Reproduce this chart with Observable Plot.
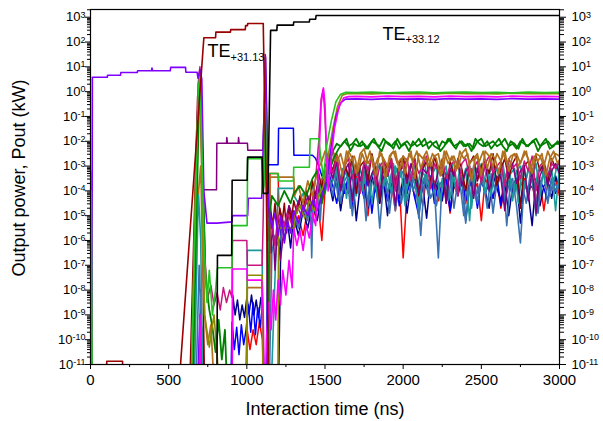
<!DOCTYPE html>
<html><head><meta charset="utf-8">
<script src="https://cdn.jsdelivr.net/npm/d3@7"></script>
<script src="https://cdn.jsdelivr.net/npm/@observablehq/plot@0.6"></script>
<style>
html,body{margin:0;padding:0;background:#fff;}
#chart svg{display:block;}
</style></head><body><div id="chart"></div>
<script>
// ---- axis ticks ----
const xMajor = [0, 500, 1000, 1500, 2000, 2500, 3000];
const xMinor = [250, 750, 1250, 1750, 2250, 2750];
const yExps = [-11, -10, -9, -8, -7, -6, -5, -4, -3, -2, -1, 0, 1, 2, 3];

// ---- series: [time ns, log10(P kW)] ----
const darkRedTE = [[0,-13],[100,-13],[104,-10.87],[205,-10.87],[209,-13],[576,-11],[725,2.17],[800,2.17],[802,2.4],[895,2.4],[897,2.5],[990,2.5],[992,2.66],[1004,2.66],[1006,2.75],[1105,2.75],[1115,-1],[1125,-4],[1140,-13]];
const blackTE = [[0,-13],[808,-13],[812,-6.6],[903,-6.6],[906,-3.57],[1002,-3.57],[1005,-2.64],[1098,-2.64],[1104,-4.1],[1135,-4.1],[1152,2.47],[1192,2.47],[1194,2.68],[1298,2.68],[1300,2.81],[1400,2.81],[1402,2.92],[1440,2.92],[1443,3.07],[3000,3.07]];
const violet = [[0,-13],[8,-13],[12,0.58],[107,0.58],[109,0.66],[192,0.66],[194,0.77],[299,0.77],[301,0.84],[390,0.84],[393,0.95],[398,0.84],[510,0.84],[513,0.98],[608,0.98],[610,0.78],[682,0.78],[688,0.54],[700,0.9],[712,0.5],[725,-4],[745,-5.3],[810,-5.3],[905,-5.25],[908,-5.0],[1005,-5.0],[1010,-4.3],[1095,-4.3],[1110,-1],[1118,1.5],[1126,-1],[1140,-4.6],[1160,-5.5],[1180,-4.9],[1200,-5.8],[1220,-5.0],[1240,-6.1],[1260,-5.2],[1280,-5.7],[1300,-4.8],[1330,-5.3],[1360,-4.6],[1390,-5.0],[1420,-4.4],[1450,-4.8],[1480,-4.2],[1510,-3.6],[1540,-2.2],[1570,-1.0],[1600,-0.45],[1630,-0.3],[1700,-0.29],[1800,-0.31],[1900,-0.28],[2000,-0.3],[2100,-0.29],[2200,-0.31],[2300,-0.28],[2400,-0.3],[2500,-0.29],[2600,-0.31],[2700,-0.28],[2800,-0.3],[2900,-0.29],[3000,-0.3]];
const purple = [[0,-13],[640,-13],[690,0.3],[700,0.7],[708,-1],[715,-3.96],[806,-3.96],[808,-2.08],[870,-2.08],[872,-1.85],[876,-2.08],[945,-2.08],[947,-1.85],[951,-2.08],[1004,-2.08],[1006,-2.36],[1102,-2.36],[1112,-0.5],[1120,1.4],[1128,-1],[1140,-5],[1155,-6.5],[1165,-5.2],[1180,-7.2],[1195,-5.5],[1215,-6.8],[1240,-5.4],[1270,-4.6],[1300,-5.1],[1330,-4.4],[1360,-4.9],[1390,-4.2],[1420,-4.7],[1450,-3.8],[1480,-4.4],[1500,-3.5]];
const blue = [[0,-13],[680,-13],[700,-9],[720,-10.5],[740,-13],[895,-13],[905,-9.3],[920,-10.4],[935,-9.5],[950,-10.6],[965,-9.4],[980,-10.2],[995,-9.6],[1010,-8.6],[1025,-9.7],[1040,-8.5],[1055,-9.8],[1070,-8.7],[1085,-9.5],[1100,-8.6],[1110,-12],[1125,-13],[1135,-3],[1140,-2.95],[1200,-2.95],[1203,-1.48],[1298,-1.48],[1301,-2.56],[1420,-2.56],[1440,-2.7],[1460,-3.0],[1480,-3.4],[1500,-3.2]];
const navy = [[0,-13],[690,-13],[705,-8],[720,-13],[905,-13],[910,-8.2],[925,-9.0],[940,-8.4],[955,-9.2],[970,-8.6],[985,-9.1],[1000,-8.3],[1015,-8.9],[1030,-8.2],[1045,-9.0],[1060,-8.4],[1075,-9.1],[1090,-8.3],[1100,-8.8],[1110,-13],[1200,-13],[1220,-5],[1240,-6],[1260,-5.2],[1280,-6.3],[1300,-5.0],[1330,-5.8],[1360,-4.8],[1390,-5.5],[1420,-4.5],[1450,-5.2],[1480,-4.0],[1500,-3.8]];
const green = [[0,-13],[5,-4],[12,-13],[640,-13],[690,0.2],[700,0.6],[712,-2],[725,-6],[745,-8.5],[760,-7.2],[780,-9.0],[800,-8.0],[812,-7.1],[905,-7.1],[908,-5.4],[1002,-5.4],[1005,-2.7],[1095,-2.7],[1100,-4.1],[1110,-3.8],[1118,-0.5],[1128,-4],[1140,-3.3],[1200,-3.3],[1205,-3.6],[1298,-3.6],[1300,-3.05],[1400,-3.05],[1405,-1.9],[1460,-1.9],[1470,-2.5],[1490,-3.5],[1510,-2.2],[1540,-1.2],[1570,-0.4],[1600,-0.1],[1630,-0.03],[1700,-0.04],[1800,-0.02],[1900,-0.05],[2000,-0.03],[2100,-0.02],[2200,-0.05],[2300,-0.03],[2400,-0.02],[2500,-0.04],[2600,-0.03],[2700,-0.05],[2800,-0.02],[2900,-0.04],[3000,-0.03]];
const darkGreen = [[0,-13],[650,-13],[695,-0.3],[705,0.2],[718,-3],[735,-7.5],[760,-8.8],[780,-9.5],[800,-10.5],[820,-9.2],[840,-10.8],[860,-9.6],[880,-13],[1130,-13],[1145,-5],[1160,-4.2],[1200,-4.6],[1240,-4.0],[1280,-4.5],[1300,-4.1],[1340,-3.8],[1380,-4.2],[1420,-3.5],[1450,-3.2],[1480,-4.5],[1500,-3.9]];
const magenta = [[0,-4.0],[4,-7],[10,-13],[690,-13],[700,-9],[712,-13],[905,-13],[908,-7.15],[1000,-7.15],[1003,-7.6],[1095,-7.6],[1105,-9],[1115,-13],[1125,-10],[1140,-8.5],[1155,-9.6],[1170,-8.0],[1185,-9.2],[1200,-7.6],[1215,-8.6],[1230,-7.2],[1250,-8.2],[1270,-6.8],[1290,-7.9],[1300,-5.5],[1320,-6.2],[1340,-5.6],[1360,-6.4],[1380,-5.4],[1400,-5.9],[1420,-4.9],[1440,-5.4],[1460,-3.0],[1475,-0.5],[1490,0.15],[1500,-0.5],[1510,-2.5],[1520,-4.0],[1535,-3.0],[1560,-1.5],[1590,-0.6],[1620,-0.25],[1650,-0.2],[1700,-0.19],[1800,-0.21],[1900,-0.18],[2000,-0.2],[2100,-0.19],[2200,-0.21],[2300,-0.18],[2400,-0.2],[2500,-0.19],[2600,-0.21],[2700,-0.18],[2800,-0.2],[2900,-0.19],[3000,-0.2]];
const crimson = [[0,-5],[5,-8],[9,-13],[640,-13],[690,0.4],[700,1.0],[710,-0.5],[720,-4],[735,-7],[750,-8.3],[770,-7.8],[790,-8.6],[810,-8.1],[830,-8.8],[850,-7.9],[870,-8.5],[890,-8.0],[905,-8.3],[908,-6.0],[1000,-6.0],[1003,-7.0],[1098,-7.0],[1105,-5],[1115,0],[1125,-4],[1140,-6.0],[1160,-5.3],[1180,-6.2],[1200,-5.0],[1230,-5.6],[1260,-4.9],[1290,-5.4],[1320,-4.6],[1350,-5.0],[1380,-4.4],[1410,-4.8],[1440,-3.5],[1460,-2.0],[1475,-0.3],[1488,0.1],[1498,-0.8],[1510,-2.5]];
const olive = [[0,-3.2],[5,-6],[10,-13],[640,-13],[680,-1.5],[695,-0.5],[705,-1.0],[718,-5],[730,-9],[760,-10.3],[790,-9.0],[810,-10.6],[830,-13],[998,-13],[1003,-7.4],[1098,-7.4],[1110,-13],[1198,-13],[1203,-5.5],[1305,-5.5],[1310,-5.0],[1340,-4.6],[1370,-5.1],[1400,-4.4],[1430,-4.8],[1460,-4.2],[1490,-3.8],[1520,-2.6],[1550,-1.5],[1580,-0.6],[1610,-0.15],[1640,-0.08],[1700,-0.07],[1800,-0.09],[1900,-0.06],[2000,-0.08],[2100,-0.07],[2200,-0.09],[2300,-0.06],[2400,-0.08],[2500,-0.07],[2600,-0.09],[2700,-0.06],[2800,-0.08],[2900,-0.07],[3000,-0.08]];
const brown = [[0,-3.2],[4,-5],[10,-13],[640,-13],[675,-3.6],[690,-4.1],[705,-3.0],[715,-6],[730,-9],[750,-10.2],[770,-9.4],[800,-13],[998,-13],[1003,-7.9],[1098,-7.9],[1105,-13],[1140,-13],[1148,-3.45],[1300,-3.45],[1305,-4.2],[1330,-3.8],[1360,-4.5],[1390,-3.6],[1420,-4.2],[1450,-3.2],[1480,-2.8],[1500,-2.4]];
const teal = [[0,-13],[660,-13],[690,-4],[705,-6],[720,-13],[998,-13],[1003,-6.4],[1098,-6.4],[1105,-13],[1150,-13],[1200,-3.9],[1300,-3.9],[1302,-4.2],[1330,-4.5],[1360,-4.1],[1390,-4.6],[1420,-3.8],[1450,-4.3],[1480,-3.5],[1500,-3.3]];
const steel = [[0,-13],[670,-13],[695,-7],[710,-9.5],[725,-13],[1140,-13],[1160,-6.5],[1180,-5.8],[1200,-6.2],[1250,-5.2],[1300,-4.8],[1330,-5.5],[1360,-4.6],[1390,-5.2],[1405,-4.2],[1415,-6.7],[1425,-4.0],[1440,-4.9],[1455,-3.8],[1470,-5.2],[1485,-3.6],[1500,-4.1]];
const red = [[0,-13],[700,-13],[720,-9.5],[735,-13],[990,-13],[1000,-9.5],[1020,-10.4],[1040,-9.6],[1060,-10.2],[1080,-9.3],[1100,-10.0],[1110,-13],[1140,-13],[1148,-3.3],[1200,-3.3],[1205,-4.6],[1240,-5.4],[1270,-4.8],[1300,-5.6],[1330,-5.0],[1360,-5.8],[1390,-4.7],[1420,-5.3],[1450,-4.2],[1480,-6.0],[1500,-4.0]];
const maroon = [[0,-13],[630,-13],[685,-0.2],[695,0.1],[705,-0.4],[718,-6],[730,-13],[1135,-13],[1150,-4.6],[1165,-5.4],[1180,-4.5],[1195,-5.6],[1210,-4.7],[1225,-5.3],[1240,-4.5],[1255,-5.7],[1270,-4.6],[1285,-5.2],[1300,-4.4],[1320,-4.9],[1340,-4.2],[1360,-4.8],[1380,-4.0],[1400,-4.6],[1420,-3.6],[1440,-4.3],[1460,-3.3],[1480,-3.9],[1500,-3.0]];

// ---- oscillating tails, tenths of a decade, every 25 ns from 1525 ns (second set from 1537.5 ns) ----
const NOISE_T0 = 1525, NOISE_T0B = 1537.5, NOISE_DT = 25;
const dgNoise = [-30,-24,-21,-22,-20,-22,-21,-19,-22,-21,-23,-20,-21,-22,-19,-21,-22,-20,-23,-21,-20,-22,-21,-19,-22,-21,-20,-22,-23,-20,-21,-19,-22,-21,-20,-22,-21,-23,-20,-19,-22,-21,-20,-22,-21,-19,-22,-21,-23,-20,-21,-22,-20,-19,-22,-21,-20,-22,-21,-21];
const dgNoise2 = [-30,-26,-23,-21,-19,-24,-21,-22,-20,-23,-21,-19,-22,-24,-20,-21,-23,-19,-22,-21,-24,-20,-22,-21,-19,-23,-21,-20,-24,-22,-19,-21,-23,-20,-22,-21,-24,-19,-21,-22,-20,-23,-21,-19,-22,-24,-20,-21,-23,-19,-22,-21,-20,-24,-21,-19,-23,-22,-20,-22];
const brNoise = [-26,-24,-28,-25,-31,-24,-27,-33,-25,-23,-29,-26,-34,-24,-27,-30,-25,-24,-32,-26,-28,-24,-35,-25,-27,-24,-30,-26,-25,-33,-24,-28,-26,-31,-25,-23,-29,-27,-25,-34,-24,-26,-30,-25,-28,-24,-32,-26,-25,-29,-24,-27,-33,-25,-26,-30,-24,-28,-25,-26];
const brNoise2 = [-30,-25,-27,-34,-24,-28,-26,-32,-25,-29,-24,-31,-27,-25,-35,-26,-24,-29,-27,-33,-25,-28,-24,-31,-26,-30,-25,-27,-34,-24,-29,-26,-32,-24,-27,-25,-36,-26,-28,-24,-31,-25,-27,-33,-24,-29,-26,-25,-30,-27,-24,-32,-26,-28,-25,-34,-27,-24,-29,-26];
const tlNoise = [-30,-36,-29,-40,-32,-35,-28,-42,-31,-37,-30,-45,-33,-29,-38,-31,-41,-30,-35,-28,-39,-33,-30,-47,-32,-36,-29,-40,-31,-34,-30,-43,-32,-29,-37,-31,-52,-30,-35,-29,-41,-33,-30,-38,-31,-36,-29,-44,-32,-30,-39,-31,-35,-29,-42,-30,-34,-31,-48,-30];
const tlNoise2 = [-33,-29,-38,-31,-43,-30,-35,-32,-40,-29,-36,-31,-44,-30,-34,-39,-29,-37,-32,-46,-30,-35,-41,-31,-29,-38,-33,-30,-44,-32,-36,-29,-40,-31,-35,-30,-47,-32,-29,-37,-31,-42,-30,-34,-29,-39,-33,-31,-45,-30,-35,-29,-41,-32,-30,-38,-31,-36,-29,-43];
const sbNoise = [-34,-42,-31,-45,-36,-33,-50,-35,-40,-32,-46,-37,-33,-55,-36,-41,-34,-48,-35,-32,-44,-38,-34,-51,-36,-33,-43,-39,-67,-35,-40,-33,-47,-36,-34,-53,-37,-32,-45,-35,-41,-34,-49,-36,-33,-44,-38,-35,-46,-61,-36,-42,-34,-50,-37,-33,-45,-35,-40,-36];
const sbNoise2 = [-38,-33,-44,-36,-31,-47,-35,-41,-33,-52,-36,-32,-43,-38,-34,-49,-35,-31,-45,-37,-33,-40,-36,-58,-34,-42,-32,-46,-37,-35,-44,-33,-39,-36,-50,-34,-31,-43,-38,-35,-47,-33,-40,-36,-32,-54,-35,-41,-34,-38,-45,-33,-37,-49,-35,-32,-42,-36,-39,-34];
const nvNoise = [-36,-44,-33,-48,-37,-41,-32,-52,-38,-35,-47,-34,-40,-45,-36,-50,-33,-39,-43,-35,-49,-37,-34,-46,-38,-51,-35,-40,-36,-44,-33,-48,-37,-42,-35,-52,-38,-34,-45,-36,-40,-47,-33,-39,-44,-36,-50,-38,-35,-53,-37,-41,-54,-35,-46,-38,-36,-43,-34,-39];
const mrNoise = [-27,-32,-25,-38,-29,-34,-26,-41,-30,-28,-36,-25,-33,-44,-28,-31,-27,-39,-29,-26,-35,-30,-27,-42,-31,-28,-37,-26,-32,-29,-45,-28,-34,-27,-31,-40,-29,-26,-36,-30,-28,-33,-25,-38,-31,-27,-35,-29,-26,-47,-30,-28,-34,-26,-32,-29,-37,-27,-31,-28];
const puNoise = [-30,-35,-28,-40,-32,-29,-44,-31,-36,-29,-38,-33,-30,-42,-31,-34,-29,-46,-32,-30,-37,-29,-35,-41,-31,-33,-29,-39,-32,-30,-45,-31,-34,-28,-38,-32,-30,-43,-31,-36,-29,-40,-33,-30,-35,-48,-31,-29,-37,-32,-30,-44,-31,-49,-34,-30,-38,-32,-29,-33];
const rdNoise = [-35,-42,-33,-47,-38,-36,-44,-34,-40,-37,-50,-35,-39,-45,-34,-41,-37,-48,-36,-67,-40,-35,-43,-38,-46,-34,-39,-36,-44,-37,-35,-49,-38,-41,-34,-45,-36,-40,-37,-52,-35,-39,-43,-36,-47,-38,-34,-41,-37,-45,-35,-40,-38,-44,-36,-48,-37,-39,-35,-42];
const blNoise = [-33,-38,-45,-35,-41,-34,-47,-37,-36,-43,-33,-49,-36,-40,-35,-44,-38,-34,-46,-37,-41,-35,-43,-50,-36,-39,-34,-45,-37,-42,-35,-48,-36,-40,-34,-44,-38,-36,-47,-35,-41,-37,-43,-34,-46,-38,-36,-42,-35,-45,-37,-40,-34,-48,-36,-39,-44,-35,-41,-37];
const crNoise = [-28,-33,-26,-37,-30,-27,-35,-29,-41,-28,-32,-26,-38,-30,-28,-34,-27,-40,-29,-31,-27,-36,-28,-33,-30,-26,-39,-29,-32,-27,-35,-30,-28,-42,-29,-27,-34,-31,-28,-37,-29,-26,-33,-30,-28,-38,-27,-31,-29,-35,-28,-32,-26,-40,-30,-28,-34,-29,-31,-28];

// ---- annotations ----
const labels = [{t: 748, e: 1.38, text: "TE_+31.13"}, {t: 1868, e: 2.1, text: "TE_+33.12"}];

function rows(path, noise, t0) {
  const r = (path || []).map(([t, e]) => ({t, p: Math.pow(10, e)}));
  if (noise) noise.forEach((v, i) => r.push({t: t0 + NOISE_DT * i, p: Math.pow(10, v / 10)}));
  return r;
}

const series = [
  [red, rdNoise, NOISE_T0, "#ff0000", 1.5],
  [navy, nvNoise, NOISE_T0, "#00008b", 1.5],
  [blue, blNoise, NOISE_T0, "#0000ff", 1.5],
  [steel, sbNoise, NOISE_T0, "#3a72b0", 1.6],
  [null, sbNoise2, NOISE_T0B, "#3a72b0", 1.6],
  [teal, tlNoise, NOISE_T0, "#1a9a9a", 1.6],
  [null, tlNoise2, NOISE_T0B, "#1a9a9a", 1.6],
  [maroon, mrNoise, NOISE_T0, "#8b0000", 1.5],
  [purple, puNoise, NOISE_T0, "#800080", 1.5],
  [crimson, crNoise, NOISE_T0, "#c8157f", 1.5],
  [brown, brNoise, NOISE_T0, "#b0701e", 1.7],
  [null, brNoise2, NOISE_T0B, "#b0701e", 1.7],
  [darkGreen, dgNoise, NOISE_T0, "#008000", 1.8],
  [null, dgNoise2, NOISE_T0B, "#008000", 1.8],
  [olive, null, 0, "#8c8c00", 1.6],
  [violet, null, 0, "#8000ff", 1.6],
  [magenta, null, 0, "#ff00ff", 1.6],
  [green, null, 0, "#22c322", 1.6],
  [darkRedTE, null, 0, "#990000", 1.6],
  [blackTE, null, 0, "#000000", 1.6]
];

const yMajor = yExps.map(e => Math.pow(10, e));
const yMinor = [];
for (const e of yExps.slice(0, -1)) for (const m of [2,3,4,5,6,7,8,9]) yMinor.push(m * Math.pow(10, e));
yMinor.push(2000);

const chart = Plot.plot({
  width: 603, height: 421,
  marginLeft: 90, marginRight: 44, marginTop: 9, marginBottom: 57,
  style: {fontFamily: "'Liberation Sans', Arial, sans-serif", fontSize: "13px", background: "#fff", color: "#000"},
  x: {domain: [0, 3000]},
  y: {type: "log", domain: [1e-11, 2050]},
  marks: [
    ...series.map(([path, noise, t0, color, w]) => Plot.line(rows(path, noise, t0), {x: "t", y: "p", stroke: color, strokeWidth: w, clip: true})),
    Plot.frame({stroke: "#000", strokeWidth: 1.2}),
    Plot.axisX(xMajor, {tickSize: 5, tickPadding: 5, fontSize: 15, tickFormat: d => String(d), label: null}),
    Plot.axisX(xMinor, {tickSize: 3, tickFormat: () => "", label: null}),
    Plot.axisY(yMajor, {anchor: "left", tickSize: 5, tickPadding: 0, fontSize: 13, tickFormat: d => "10^" + Math.round(Math.log10(d)), label: null}),
    Plot.axisY(yMinor, {anchor: "left", tickSize: 3, tickFormat: () => "", label: null}),
    Plot.axisY(yMajor, {anchor: "right", tickSize: 6, tickPadding: 6, fontSize: 13, tickFormat: d => "10^" + Math.round(Math.log10(d)), label: null}),
    Plot.axisY(yMinor, {anchor: "right", tickSize: 4, tickFormat: () => "", label: null}),
    Plot.text(labels, {x: "t", y: d => Math.pow(10, d.e), text: "text", textAnchor: "start", lineAnchor: "bottom", fontSize: 18}),
    Plot.text(["Interaction time (ns)"], {frameAnchor: "bottom", textAnchor: "middle", dy: 50, lineAnchor: "bottom", fontSize: 18, text: d => d}),
    Plot.text(["Output power, Pout (kW)"], {frameAnchor: "left", textAnchor: "middle", dx: -66, dy: -9, rotate: -90, lineAnchor: "bottom", fontSize: 18, text: d => d})
  ]
});

d3.select(chart).selectAll("text").each(function () {
  const s = this.textContent;
  const sel = d3.select(this);
  if (s.includes("^")) {
    const [b, e] = s.split("^");
    sel.text(b);
    sel.append("tspan").attr("dy", "-0.4em").attr("font-size", "9px").text(e);
  } else if (s.includes("_")) {
    const [b, e] = s.split("_");
    sel.text(b);
    sel.append("tspan").attr("dy", "0.35em").attr("font-size", "11px").text(e);
  }
});

document.getElementById("chart").append(chart);
</script></body></html>
